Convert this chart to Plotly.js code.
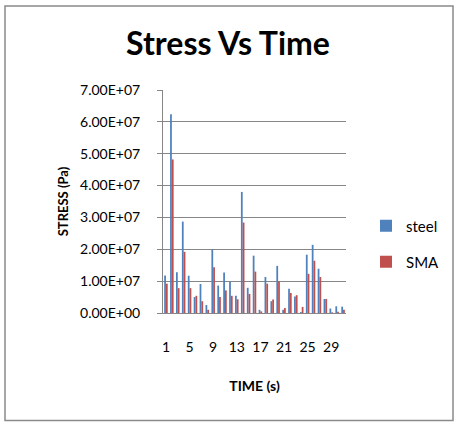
<!DOCTYPE html>
<html>
<head>
<meta charset="utf-8">
<script src="https://cdn.plot.ly/plotly-3.0.1.min.js"></script>
<style>
  html, body { margin: 0; padding: 0; background: #fff; }
  #chart { width: 463px; height: 426px; }
</style>
</head>
<body>
<div id="chart"></div>
<script>
// Time steps (s)
const timeSteps = [1,2,3,4,5,6,7,8,9,10,11,12,13,14,15,16,17,18,19,20,21,22,23,24,25,26,27,28,29,30,31];

// Stress in Pa for each material
const steelStress = [1.18e7, 6.24e7, 1.28e7, 2.87e7, 1.17e7, 0.50e7, 0.91e7, 0.25e7, 2.00e7, 0.86e7,
                     1.27e7, 0.98e7, 0.54e7, 3.80e7, 0.79e7, 1.80e7, 0.10e7, 1.13e7, 0.37e7, 1.48e7,
                     0.10e7, 0.76e7, 0.52e7, 0.03e7, 1.83e7, 2.14e7, 1.39e7, 0.44e7, 0.14e7, 0.21e7, 0.20e7];
const smaStress   = [0.92e7, 4.82e7, 0.78e7, 1.92e7, 0.78e7, 0.54e7, 0.37e7, 0.10e7, 1.44e7, 0.50e7,
                     0.71e7, 0.54e7, 0.43e7, 2.84e7, 0.60e7, 1.30e7, 0.05e7, 0.92e7, 0.42e7, 0.99e7,
                     0.16e7, 0.63e7, 0.56e7, 0.19e7, 1.23e7, 1.64e7, 1.13e7, 0.44e7, 0.02e7, 0.04e7, 0.10e7];

// Axis ticks
const yTickVals = [0, 1e7, 2e7, 3e7, 4e7, 5e7, 6e7, 7e7];
const xTickLabels = [1, 5, 9, 13, 17, 21, 25, 29];

// Scientific notation with a two-digit exponent, e.g. 7.00E+07
function sci(v) {
  if (v === 0) return '0.00E+00';
  const [m, e] = v.toExponential(2).split('e');
  const n = parseInt(e, 10);
  const sign = n < 0 ? '-' : '+';
  return m + 'E' + sign + String(Math.abs(n)).padStart(2, '0');
}

const FONT = 'Lato, "Open Sans", sans-serif';
const xCats = timeSteps.map(String);

const traces = [
  { type: 'bar', name: 'steel', x: xCats, y: steelStress,
    marker: { color: '#4F81BD' }, legend: 'legend', showlegend: true },
  { type: 'bar', name: 'SMA', x: xCats, y: smaStress,
    marker: { color: '#C0504D' }, legend: 'legend2', showlegend: true }
];

// paper-coordinate helpers for the plot box (x 163..346 px, y 90..313 px)
const L = 163, R = 346, T = 90, B = 313;
const px = v => (v - L) / (R - L);
const py = v => (B - v) / (B - T);

const layout = {
  width: 463, height: 426,
  margin: { l: L, r: 463 - R, t: T, b: 426 - B },
  paper_bgcolor: '#fff', plot_bgcolor: '#fff',
  font: { family: FONT, color: '#000' },
  showlegend: true,
  barmode: 'group', bargap: 0.4, bargroupgap: 0,
  title: { text: '<b>Stress Vs Time</b>', font: { family: FONT, size: 32, color: '#000' },
           x: 228 / 463, xanchor: 'center', y: 1 - 44 / 426, yanchor: 'middle' },
  xaxis: {
    type: 'category', range: [-0.5, 30.5],
    tickmode: 'array', tickvals: xTickLabels.map(String), ticktext: xTickLabels.map(String),
    ticks: '', ticklabelstandoff: 21, tickfont: { size: 14, family: FONT },
    showgrid: false, showline: true, linecolor: '#868686', linewidth: 1,
    title: { text: '<b>TIME (s)</b>', font: { size: 14, family: FONT }, standoff: 27 },
    automargin: false, fixedrange: true
  },
  yaxis: {
    range: [0, 7e7], tickmode: 'array', tickvals: yTickVals, ticktext: yTickVals.map(sci),
    ticks: 'outside', ticklen: 5, tickcolor: '#868686', ticklabelstandoff: 14,
    tickfont: { size: 14, family: FONT },
    showgrid: true, gridcolor: '#868686', gridwidth: 1,
    showline: true, linecolor: '#868686', linewidth: 1, zeroline: false,
    title: { text: '<b>STRESS (Pa)</b>', font: { size: 13, family: FONT }, standoff: 8 },
    automargin: false, fixedrange: true
  },
  legend: { x: px(366), y: py(226), xanchor: 'left', yanchor: 'middle',
            font: { size: 15, family: FONT }, bgcolor: 'rgba(0,0,0,0)' },
  legend2: { x: px(366), y: py(262), xanchor: 'left', yanchor: 'middle',
             font: { size: 15, family: FONT }, bgcolor: 'rgba(0,0,0,0)' },
  shapes: [{
    type: 'rect', xref: 'paper', yref: 'paper',
    x0: px(5), x1: px(453), y0: py(420.5), y1: py(6),
    line: { color: '#8a8a8a', width: 1.5 }, fillcolor: 'rgba(0,0,0,0)', layer: 'below'
  }]
};

Plotly.newPlot('chart', traces, layout, { staticPlot: true, displayModeBar: false });
</script>
</body>
</html>
